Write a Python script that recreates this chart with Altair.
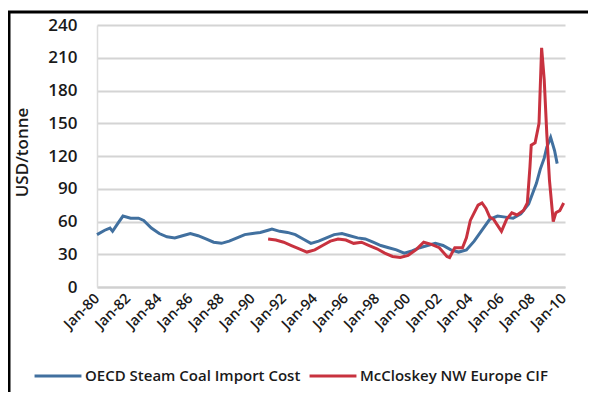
import altair as alt
import pandas as pd

oecd_dates = ["1980-01", "1980-07", "1980-11", "1981-01", "1981-05", "1981-09", "1982-03", "1982-09",
              "1983-01", "1983-07", "1984-01", "1984-07", "1985-01", "1985-07", "1986-01", "1986-07",
              "1987-01", "1987-07", "1988-01", "1988-07", "1989-01", "1989-07", "1990-01", "1990-07",
              "1991-01", "1991-04", "1991-10", "1992-04", "1992-10", "1993-04", "1993-10", "1994-04",
              "1994-10", "1995-04", "1995-10", "1996-04", "1996-10", "1997-04", "1997-10", "1998-04",
              "1998-10", "1999-04", "1999-10", "2000-04", "2000-10", "2001-04", "2001-10", "2002-04",
              "2002-10", "2003-04", "2003-10", "2004-04", "2004-10", "2005-04", "2005-10", "2006-04",
              "2006-10", "2007-04", "2007-10", "2008-04", "2008-07", "2008-10", "2008-12", "2009-03",
              "2009-06", "2009-08"]
oecd_vals = [48, 52, 54, 51, 58, 65, 63, 63,
             61, 54, 49, 46, 45, 47, 49, 47,
             44, 41, 40, 42, 45, 48, 49, 50,
             52, 53, 51, 50, 48, 44, 40, 42,
             45, 48, 49, 47, 45, 44, 41, 38,
             36, 34, 31, 33, 36, 38, 40, 38,
             34, 32, 34, 42, 52, 62, 65, 64,
             63, 67, 76, 95, 108, 118, 128, 137,
             125, 113]

mc_dates = ["1991-01", "1991-07", "1992-01", "1992-07", "1993-01", "1993-07", "1994-01", "1994-07",
            "1995-01", "1995-07", "1996-01", "1996-07", "1997-01", "1997-07", "1998-01", "1998-07",
            "1999-01", "1999-07", "2000-01", "2000-07", "2001-01", "2001-07", "2002-01", "2002-07",
            "2002-09", "2003-01", "2003-07", "2003-10", "2004-01", "2004-07", "2004-10", "2005-01",
            "2005-04", "2005-07", "2006-01", "2006-05", "2006-09", "2007-01", "2007-06", "2007-09",
            "2007-11", "2007-12", "2008-03", "2008-06", "2008-08", "2008-10", "2008-12", "2009-02",
            "2009-05", "2009-07", "2009-10", "2010-01"]
mc_vals = [44, 43, 41, 38, 35, 32, 34, 38,
           42, 44, 43, 40, 41, 38, 35, 31,
           28, 27, 29, 34, 41, 39, 36, 28,
           27, 36, 36, 45, 61, 75, 77, 72,
           64, 62, 51, 62, 68, 66, 70, 77,
           110, 130, 132, 150, 219, 190, 140, 98,
           60, 68, 70, 77]

S1 = "OECD Steam Coal Import Cost"
S2 = "McCloskey NW Europe CIF"
BLUE = "#41709f"
RED = "#c8323f"

df1 = pd.DataFrame({"date": [d + "-01" for d in oecd_dates], "value": oecd_vals, "series": S1})
df2 = pd.DataFrame({"date": [d + "-01" for d in mc_dates], "value": mc_vals, "series": S2})

tick_years = list(range(1980, 2011, 2))
FONT = "Open Sans"

color = alt.Color(
    "series:N",
    scale=alt.Scale(domain=[S1, S2], range=[BLUE, RED]),
    legend=alt.Legend(
        title=None, orient="none", direction="horizontal", columns=2,
        legendX=-64, legendY=326, symbolType="stroke", symbolSize=2200,
        symbolStrokeWidth=3, labelFont=FONT, labelFontSize=15, labelFontWeight=600,
        labelColor="#1a1a1a", columnPadding=2, labelOffset=2, labelLimit=0,
    ),
)

x = alt.X(
    "date:T",
    scale=alt.Scale(type="utc", domain=["1980-01-01", "2010-02-01"]),
    axis=alt.Axis(
        title=None, values=[alt.DateTime(year=y, month=1, date=1, utc=True) for y in tick_years],
        format="%b-%y", labelAngle=-45, labelAlign="right", labelBaseline="middle",
        labelFont=FONT, labelFontSize=14.5, labelFontWeight=600, labelColor="#1a1a1a",
        labelPadding=9, ticks=False, grid=False, domainColor="#d0d0d0", domainWidth=2,
        labelOverlap=False,
    ),
)
y = alt.Y(
    "value:Q",
    scale=alt.Scale(domain=[0, 240]),
    axis=alt.Axis(
        title="USD/tonne", values=list(range(0, 241, 30)), labelFont=FONT, labelFontSize=17,
        labelFontWeight=600, labelColor="#1a1a1a", labelPadding=20, ticks=False,
        gridColor="#d4d4d4", gridWidth=2, domainColor="#dcdcdc", domainWidth=1.5,
        titleFont=FONT, titleFontSize=17, titleFontWeight=600, titleColor="#1a1a1a",
        titleAngle=-90, titleX=-75, titleY=127, titleAlign="center", titleBaseline="middle",
    ),
)

l1 = alt.Chart(df1).mark_line(strokeWidth=3).encode(x=x, y=y, color=color)
l2 = alt.Chart(df2).mark_line(strokeWidth=3).encode(x=x, y=y, color=color)

frame_df = pd.DataFrame({"k": [0]})
top_rule = alt.Chart(frame_df).mark_rule(color="black", strokeWidth=3, clip=False).encode(
    x=alt.value(-89), x2=alt.value(491), y=alt.value(-13)
)
left_rule = alt.Chart(frame_df).mark_rule(color="black", strokeWidth=3, clip=False).encode(
    x=alt.value(-88), y=alt.value(-13), y2=alt.value(367)
)

chart = alt.layer(l1, l2, top_rule, left_rule).properties(
    width=468, height=262,
    autosize=alt.AutoSizeParams(type="none"),
    padding={"left": 89, "top": 17, "right": 23, "bottom": 105},
    background="white",
).configure_view(stroke=None)

chart.save("out.html", embed_options={"renderer": "svg", "actions": False})
